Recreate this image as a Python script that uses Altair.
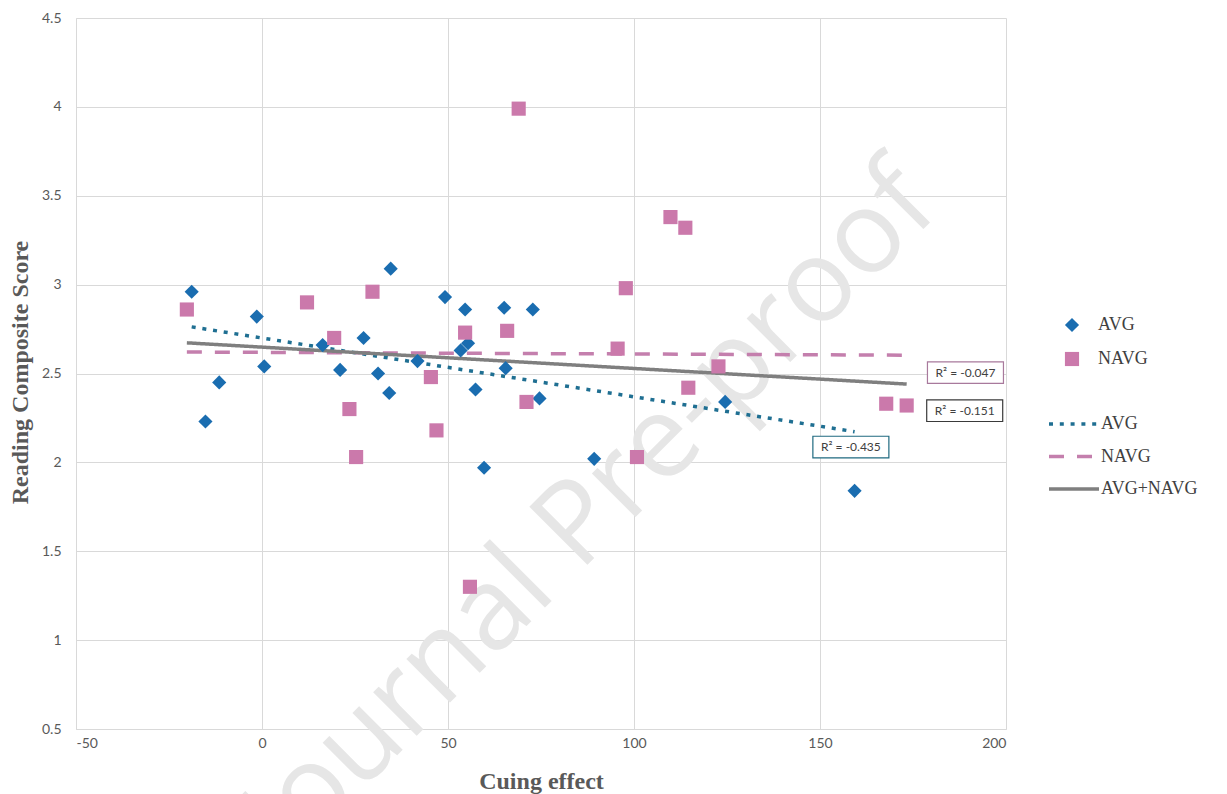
import altair as alt
import pandas as pd

# ---- data ----
avg_x = [-18.9, -15.2, -11.5, -1.4, 0.6, 16.3, 21.0, 27.3, 31.2, 34.6, 34.2, 41.8,
         49.2, 53.4, 54.6, 55.4, 57.4, 59.7, 65.1, 65.5, 72.8, 74.6, 89.3, 124.5, 159.3]
avg_y = [2.96, 2.23, 2.45, 2.82, 2.54, 2.66, 2.52, 2.70, 2.50, 3.09, 2.39, 2.57,
         2.93, 2.63, 2.86, 2.67, 2.41, 1.97, 2.87, 2.53, 2.86, 2.36, 2.02, 2.34, 1.84]

navg_x = [-20.2, 12.1, 19.4, 23.5, 25.3, 29.7, 45.4, 46.9, 54.6, 55.9, 65.9, 69.0,
          71.1, 95.6, 97.8, 100.8, 109.8, 113.8, 114.6, 122.7, 167.8, 173.3]
navg_y = [2.86, 2.90, 2.70, 2.30, 2.03, 2.96, 2.48, 2.18, 2.73, 1.30, 2.74, 3.99,
          2.34, 2.64, 2.98, 2.03, 3.38, 3.32, 2.42, 2.54, 2.33, 2.32]

series_labels = ["AVG", "NAVG"]
trend_labels = ["AVG", "NAVG", "AVG+NAVG"]

r2_text = ["R\u00b2 = -0.047", "R\u00b2 = -0.151", "R\u00b2 = -0.435"]
r2_x = [189.1, 188.9, 158.3]
r2_y = [2.505, 2.291, 2.086]

watermark_text = ["Journal Pre-proof"]
watermark_x = [95.0]
watermark_y = [1.58]

x_ticks = [-50, 0, 50, 100, 150, 200]
y_ticks = [0.5, 1, 1.5, 2, 2.5, 3, 3.5, 4, 4.5]

# ---- tables ----
pts = pd.concat([
    pd.DataFrame({"x": avg_x, "y": avg_y, "group": "AVG"}),
    pd.DataFrame({"x": navg_x, "y": navg_y, "group": "NAVG"}),
], ignore_index=True)

trend = pd.concat([
    pts.assign(line=pts["group"]),
    pts.assign(line="AVG+NAVG"),
], ignore_index=True)

boxes = pd.DataFrame({"x": r2_x, "y": r2_y, "label": r2_text})
wm = pd.DataFrame({"x": watermark_x, "y": watermark_y, "t": watermark_text})

BLUE = "#1a6db0"
PINK = "#cb79ab"
DOT = "#1f6f92"
DASH = "#c47fad"
GRAY = "#7f7f7f"

xs = alt.Scale(domain=[-50, 200], nice=False, zero=False)
ys = alt.Scale(domain=[0.5, 4.5], nice=False, zero=False)

X = alt.X("x:Q", scale=xs,
          axis=alt.Axis(values=x_ticks, title="Cuing effect", labelPadding=7,
                        labelExpr="'' + datum.value",
                        titleY=59, titleBaseline="alphabetic"))
Y = alt.Y("y:Q", scale=ys,
          axis=alt.Axis(values=y_ticks, title="Reading Composite Score", labelPadding=15,
                        labelExpr="'' + datum.value",
                        titleX=-49, titleY=354, titleBaseline="alphabetic"))

watermark = alt.Chart(wm).mark_text(
    font="Open Sans", fontSize=115, color="#e6e6e6", angle=315,
    align="center", baseline="alphabetic"
).encode(x=alt.X("x:Q", scale=xs), y=alt.Y("y:Q", scale=ys), text="t:N")

line_legend = alt.Legend(title=None, orient="none", legendX=971, legendY=397,
                         symbolType="stroke", symbolSize=2500, symbolStrokeWidth=3.5,
                         clipHeight=18,
                         labelFont="Liberation Serif", labelFontSize=18,
                         labelColor="#404040", labelOffset=0, rowPadding=14.5, padding=0)

lines = alt.Chart(trend).transform_regression(
    "x", "y", groupby=["line"]
).mark_line(strokeWidth=3.5).encode(
    x=X, y=Y,
    color=alt.Color("line:N", scale=alt.Scale(domain=trend_labels, range=[DOT, DASH, GRAY]),
                    legend=line_legend),
    strokeDash=alt.StrokeDash("line:N", scale=alt.Scale(domain=trend_labels,
                                                        range=[[4, 6.8], [15, 13], [1, 0]]),
                              legend=line_legend),
)

pt_legend = alt.Legend(title=None, orient="none", legendX=987, legendY=298,
                       symbolSize=200, labelFont="Liberation Serif",
                       labelFontSize=18, labelColor="#404040", labelOffset=17,
                       rowPadding=16, padding=0)

points = alt.Chart(pts).mark_point(filled=True, opacity=1, size=200).encode(
    x=X, y=Y,
    color=alt.Color("group:N", scale=alt.Scale(domain=series_labels, range=[BLUE, PINK]),
                    legend=pt_legend),
    shape=alt.Shape("group:N", scale=alt.Scale(domain=series_labels, range=["diamond", "square"]),
                    legend=pt_legend),
)

box_shape = "M-1,-0.285L1,-0.285L1,0.285L-1,0.285Z"
r2_boxes = alt.Chart(boxes).mark_point(
    shape=box_shape, size=5776, filled=True, fill="white", opacity=1, strokeWidth=1.2
).encode(
    x=alt.X("x:Q", scale=xs), y=alt.Y("y:Q", scale=ys),
    stroke=alt.Stroke("label:N", scale=alt.Scale(domain=r2_text,
                                                 range=["#a8799c", "#3a3a3a", "#1f6a80"]),
                      legend=None),
)
r2_labels = alt.Chart(boxes).mark_text(
    font="Lato", fontSize=12, color="#404040", align="center", baseline="middle"
).encode(x=alt.X("x:Q", scale=xs), y=alt.Y("y:Q", scale=ys), text="label:N")

chart = alt.layer(watermark, lines, points, r2_boxes, r2_labels).resolve_scale(
    color="independent", shape="independent", strokeDash="independent", stroke="independent"
).properties(
    width=930, height=711,
    autosize=alt.AutoSizeParams(type="none"),
    padding={"left": 76, "top": 18, "right": 221, "bottom": 65},
    background="white",
).configure_view(stroke=None).configure_axis(
    grid=True, gridColor="#d9d9d9", gridWidth=1,
    domainColor="#d9d9d9", domainWidth=1, ticks=False,
    labelColor="#595959", labelFont="Lato", labelFontSize=14,
    titleFont="Liberation Serif", titleFontSize=24, titleFontWeight="bold", titleColor="#595959",
)

chart.save("out.html", embed_options={"renderer": "svg", "actions": False})
